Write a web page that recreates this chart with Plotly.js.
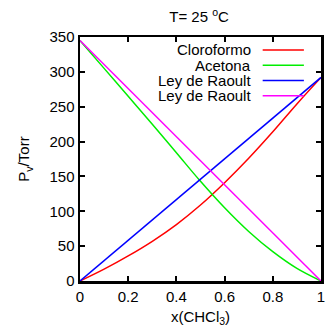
<!DOCTYPE html>
<html>
<head>
<meta charset="utf-8">
<script src="https://cdn.plot.ly/plotly-3.0.1.min.js"></script>
<style>html,body{margin:0;padding:0;background:#fff;}#chart{width:329px;height:327px;}</style>
</head>
<body>
<div id="chart"></div>
<script>
// Data
const xFrac = [0, 0.1, 0.2, 0.3, 0.4, 0.5, 0.6, 0.7, 0.8, 0.9, 1.0];
const pCloroformo = [0, 17, 36, 57, 81, 109, 141, 176, 214, 254, 292];
const pAcetona = [345, 305, 265, 225, 184, 143, 105, 71, 42, 18, 0];
const raoultX = [0, 1];
const raoultCloroformo = [0, 292];
const raoultAcetona = [345, 0];
const seriesNames = ["Cloroformo", "Acetona", "Ley de Raoult", "Ley de Raoult"];
const seriesColors = ["#ff0000", "#00ee00", "#0000ff", "#ff00ff"];
const xTicks = [0, 0.2, 0.4, 0.6, 0.8, 1];
const xTickText = ["0", "0.2", "0.4", "0.6", "0.8", "1"];
const yTicks = [0, 50, 100, 150, 200, 250, 300, 350];

const FONT = "Liberation Sans, Arial, sans-serif";
const xs = [xFrac, xFrac, raoultX, raoultX];
const ys = [pCloroformo, pAcetona, raoultCloroformo, raoultAcetona];
const traces = xs.map((x, i) => ({
  x: x, y: ys[i], type: 'scatter', mode: 'lines', name: seriesNames[i],
  line: {color: seriesColors[i], width: 1.5, shape: i < 2 ? 'spline' : 'linear', smoothing: 1},
  showlegend: false, hoverinfo: 'skip'
}));

// gnuplot-style legend: right-aligned text, sample line to the right
const legendY = [0.947, 0.884, 0.822, 0.759];
const annotations = seriesNames.map((n, i) => ({
  text: n, xref: 'paper', yref: 'paper', x: 0.718, y: legendY[i],
  xanchor: 'right', yanchor: 'middle', showarrow: false,
  font: {family: FONT, size: 15, color: '#000'}
}));
const shapes = seriesColors.map((c, i) => ({
  type: 'line', xref: 'paper', yref: 'paper', x0: 0.758, x1: 0.929,
  y0: legendY[i], y1: legendY[i], line: {color: c, width: 1.5}
}));

const axisCommon = {
  showgrid: false, zeroline: false, showline: true, mirror: 'ticks',
  linecolor: '#000', linewidth: 2.5, ticks: 'inside', ticklen: 5,
  tickwidth: 2, tickcolor: '#000', tickfont: {family: FONT, size: 15, color: '#000'}
};

const layout = {
  width: 329, height: 327,
  margin: {l: 80, r: 8, t: 37, b: 46},
  paper_bgcolor: '#fff', plot_bgcolor: '#fff',
  title: {text: 'T= 25 <sup>o</sup>C', x: 0.605, xanchor: 'center', y: 0.948, yanchor: 'middle',
          font: {family: FONT, size: 15, color: '#000'}},
  xaxis: Object.assign({}, axisCommon, {
    range: [0, 1], tickvals: xTicks, ticktext: xTickText,
    title: {text: 'x(CHCl<sub>3</sub>)', standoff: 12, font: {family: FONT, size: 15, color: '#000'}}
  }),
  yaxis: Object.assign({}, axisCommon, {
    range: [0, 350], tickvals: yTicks,
    title: {text: 'P<sub>v</sub>/Torr', standoff: 16, font: {family: FONT, size: 15, color: '#000'}}
  }),
  annotations: annotations, shapes: shapes, showlegend: false
};

Plotly.newPlot('chart', traces, layout, {staticPlot: true, displayModeBar: false});
</script>
</body>
</html>
